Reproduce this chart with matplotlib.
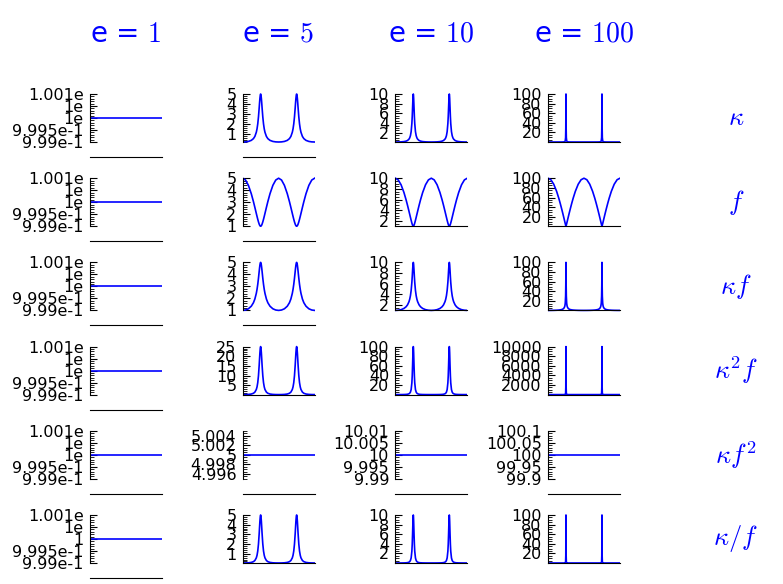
import matplotlib
matplotlib.use("Agg")
import matplotlib.pyplot as plt
import matplotlib.ticker as ticker
import numpy as np

plt.rcParams['mathtext.fontset'] = 'cm'

eccentricities = [1, 5, 10, 100]
row_labels = [r'$\kappa$', r'$f$', r'$\kappa f$', r'$\kappa^2 f$', r'$\kappa f^2$', r'$\kappa / f$']

# position along the curve (fraction of a full turn)
u = [0, 0.04, 0.08, 0.12, 0.15, 0.17, 0.19, 0.2, 0.21, 0.22, 0.23, 0.235, 0.24, 0.245, 0.2475,
     0.25, 0.2525, 0.255, 0.26, 0.265, 0.27, 0.28, 0.29, 0.3, 0.31, 0.33, 0.35, 0.38, 0.42, 0.46,
     0.5, 0.54, 0.58, 0.62, 0.65, 0.67, 0.69, 0.7, 0.71, 0.72, 0.73, 0.735, 0.74, 0.745, 0.7475,
     0.75, 0.7525, 0.755, 0.76, 0.765, 0.77, 0.78, 0.79, 0.8, 0.81, 0.83, 0.85, 0.88, 0.92, 0.96,
     1.0]

kappa_e1 = [1.0] * 61
f_e1 = [1.0] * 61

kappa_e5 = [0.2, 0.2126, 0.2573, 0.3636, 0.5381, 0.761, 1.176, 1.519, 2.013, 2.713, 3.631, 4.124, 4.568, 4.884, 4.971,
            5.0, 4.971, 4.884, 4.568, 4.124, 3.631, 2.713, 2.013, 1.519, 1.176, 0.761, 0.5381, 0.3636, 0.2573, 0.2126,
            0.2, 0.2126, 0.2573, 0.3636, 0.5381, 0.761, 1.176, 1.519, 2.013, 2.713, 3.631, 4.124, 4.568, 4.884, 4.971,
            5.0, 4.971, 4.884, 4.568, 4.124, 3.631, 2.713, 2.013, 1.519, 1.176, 0.761, 0.5381, 0.3636, 0.2573, 0.2126,
            0.2]
f_e5 = [5.0, 4.849, 4.408, 3.709, 3.048, 2.563, 2.062, 1.814, 1.576, 1.357, 1.173, 1.101, 1.046, 1.012, 1.003,
        1.0, 1.003, 1.012, 1.046, 1.101, 1.173, 1.357, 1.576, 1.814, 2.062, 2.563, 3.048, 3.709, 4.408, 4.849,
        5.0, 4.849, 4.408, 3.709, 3.048, 2.563, 2.062, 1.814, 1.576, 1.357, 1.173, 1.101, 1.046, 1.012, 1.003,
        1.0, 1.003, 1.012, 1.046, 1.101, 1.173, 1.357, 1.576, 1.814, 2.062, 2.563, 3.048, 3.709, 4.408, 4.849,
        5.0]

kappa_e10 = [0.1, 0.1065, 0.1298, 0.1865, 0.2841, 0.4171, 0.6937, 0.9566, 1.404, 2.234, 3.914, 5.328, 7.193, 9.11, 9.762,
             10.0, 9.762, 9.11, 7.193, 5.328, 3.914, 2.234, 1.404, 0.9566, 0.6937, 0.4171, 0.2841, 0.1865, 0.1298, 0.1065,
             0.1, 0.1065, 0.1298, 0.1865, 0.2841, 0.4171, 0.6937, 0.9566, 1.404, 2.234, 3.914, 5.328, 7.193, 9.11, 9.762,
             10.0, 9.762, 9.11, 7.193, 5.328, 3.914, 2.234, 1.404, 0.9566, 0.6937, 0.4171, 0.2841, 0.1865, 0.1298, 0.1065,
             0.1]
f_e10 = [10.0, 9.689, 8.776, 7.322, 5.933, 4.897, 3.797, 3.233, 2.669, 2.116, 1.598, 1.37, 1.179, 1.048, 1.012,
         1.0, 1.012, 1.048, 1.179, 1.37, 1.598, 2.116, 2.669, 3.233, 3.797, 4.897, 5.933, 7.322, 8.776, 9.689,
         10.0, 9.689, 8.776, 7.322, 5.933, 4.897, 3.797, 3.233, 2.669, 2.116, 1.598, 1.37, 1.179, 1.048, 1.012,
         1.0, 1.012, 1.048, 1.179, 1.37, 1.598, 2.116, 2.669, 3.233, 3.797, 4.897, 5.933, 7.322, 8.776, 9.689,
         10.0]

kappa_e100 = [0.01, 0.01066, 0.01302, 0.01882, 0.02894, 0.04307, 0.07375, 0.1046, 0.1614, 0.284, 0.6327, 1.117, 2.474, 9.204, 28.84,
              100.0, 28.84, 9.204, 2.474, 1.117, 0.6327, 0.284, 0.1614, 0.1046, 0.07375, 0.04307, 0.02894, 0.01882, 0.01302, 0.01066,
              0.01, 0.01066, 0.01302, 0.01882, 0.02894, 0.04307, 0.07375, 0.1046, 0.1614, 0.284, 0.6327, 1.117, 2.474, 9.204, 28.84,
              100.0, 28.84, 9.204, 2.474, 1.117, 0.6327, 0.284, 0.1614, 0.1046, 0.07375, 0.04307, 0.02894, 0.01882, 0.01302, 0.01066,
              0.01]
f_e100 = [100.0, 96.86, 87.63, 72.9, 58.78, 48.18, 36.82, 30.92, 24.89, 18.76, 12.57, 9.463, 6.358, 3.296, 1.862,
          1.0, 1.862, 3.296, 6.358, 9.463, 12.57, 18.76, 24.89, 30.92, 36.82, 48.18, 58.78, 72.9, 87.63, 96.86,
          100.0, 96.86, 87.63, 72.9, 58.78, 48.18, 36.82, 30.92, 24.89, 18.76, 12.57, 9.463, 6.358, 3.296, 1.862,
          1.0, 1.862, 3.296, 6.358, 9.463, 12.57, 18.76, 24.89, 30.92, 36.82, 48.18, 58.78, 72.9, 87.63, 96.86,
          100.0]

# kappa * f^2 stays flat at these levels
kappa_f2_level = [1.0, 5.0, 10.0, 100.0]

kappa = [kappa_e1, kappa_e5, kappa_e10, kappa_e100]
f = [f_e1, f_e5, f_e10, f_e100]

# tick labels of the e = 1 column, bottom to top
e1_labels = ['9.99e-1', '9.995e-1', '1e', '1e', '1.001e']
e1_labels_last = ['9.99e-1', '9.995e-1', '1', '1e', '1.001e']

# panels whose bottom line sits at the bottom of the axes instead of at the curve
gap_panels = [(0, 0), (1, 0), (2, 0), (3, 0), (4, 0), (5, 0),
              (0, 1), (1, 1), (2, 1), (4, 1), (4, 2), (4, 3)]


def panel_rows(col):
    k = np.array(kappa[col])
    ff = np.array(f[col])
    flat = np.full(len(u), kappa_f2_level[col])
    return [k, ff, k * ff, k ** 2 * ff, flat, k / ff]


def set_ticks(ax, lo, hi, labels=None):
    loc = ticker.MaxNLocator(nbins=5, steps=[1, 2, 2.5, 5, 10])
    major = loc.tick_values(lo, hi)
    step = major[1] - major[0]
    tol = step * 1e-6
    major = [t for t in major if lo - tol <= t <= hi + tol]
    mant = step / 10 ** np.floor(np.log10(step))
    ndiv = 5 if (np.isclose(mant, 1) or np.isclose(mant, 5) or np.isclose(mant, 10)) else 4
    ms = step / ndiv
    minor = np.arange(np.ceil((lo - tol) / ms) * ms, hi + tol, ms)
    ax.yaxis.set_major_locator(ticker.FixedLocator(major))
    ax.yaxis.set_minor_locator(ticker.FixedLocator(minor))
    if labels is not None and len(labels) == len(major):
        ax.yaxis.set_major_formatter(ticker.FixedFormatter(labels))
    else:
        ax.yaxis.set_major_formatter(ticker.FuncFormatter(lambda v, p: '%g' % v))


fig, axes = plt.subplots(6, 4, figsize=(7.83, 5.84), dpi=100)
fig.subplots_adjust(left=0.1149, right=0.7918, top=0.8647, bottom=0.0103,
                    wspace=1.12, hspace=0.0795)

for c, e in enumerate(eccentricities):
    series = panel_rows(c)
    for r, y in enumerate(series):
        ax = axes[r, c]
        ax.plot(u, y, color='b', lw=1.2)

        lo, hi = float(y.min()), float(y.max())
        if hi - lo < 1e-9 * abs(hi):
            lo, hi = lo - 0.001 * abs(lo), hi + 0.001 * abs(hi)
        pad = 0.3125 * (hi - lo)
        ax.set_xlim(0, 1)
        ax.set_ylim(lo - pad, hi + pad)

        labels = None
        if c == 0:
            labels = e1_labels_last if r == 5 else e1_labels
        set_ticks(ax, lo, hi, labels)

        ax.spines['top'].set_visible(False)
        ax.spines['right'].set_visible(False)
        ax.spines['left'].set_bounds(lo, hi)
        if (r, c) not in gap_panels:
            ax.spines['bottom'].set_position(('data', lo))
        ax.set_xticks([])
        ax.tick_params(axis='y', which='major', direction='in', length=5, width=0.8,
                       labelsize=11.5, pad=4.5)
        ax.tick_params(axis='y', which='minor', direction='in', length=3, width=0.6)

    axes[0, c].text(0.5, 1.58, 'e = $%d$' % e, transform=axes[0, c].transAxes,
                    ha='center', va='center', fontsize=20, color='b')

for r, label in enumerate(row_labels):
    axes[r, 3].text(2.61, 0.5, label, transform=axes[r, 3].transAxes,
                    ha='center', va='center', fontsize=19, color='b')

fig.savefig('out.png', dpi=100)
